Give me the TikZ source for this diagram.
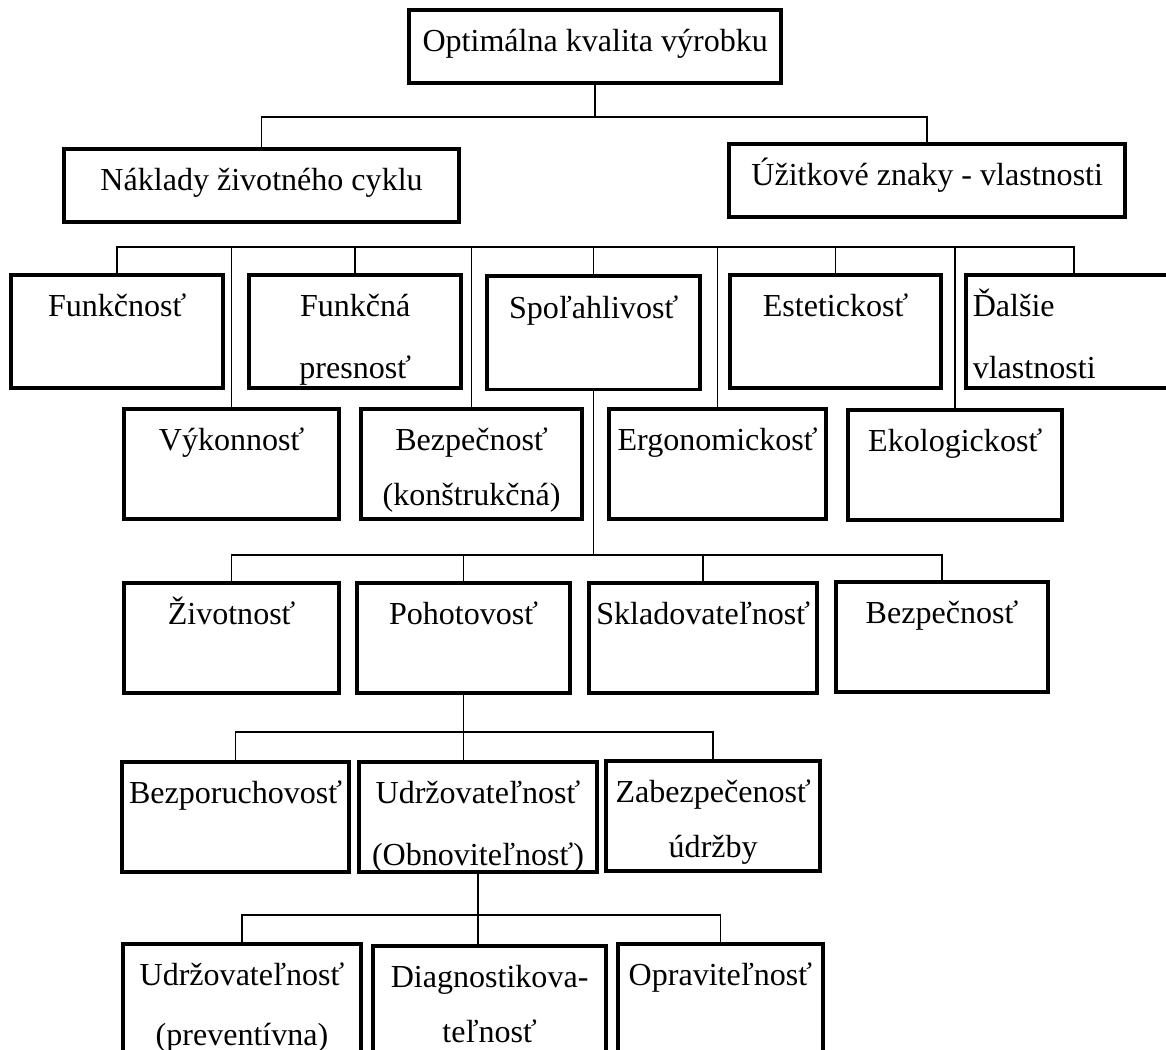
\documentclass[tikz,border=0pt]{standalone}
\usepackage{fontspec}
\setmainfont{Liberation Serif}
\hyphenpenalty=10000
\newcommand{\propbox}[4][\centering]{\parbox[c][#3][t]{#2}{#1\rule{0pt}{1.05cm}#4}}
\tikzset{
  prop/.style={draw, line width=0.09cm, inner sep=0pt},
  link/.style={line width=0.04cm}
}
\begin{document}
\begin{tikzpicture}[x=1cm,y=1cm,font=\fontsize{22.8pt}{39.1pt}\selectfont]
\useasboundingbox (0,0) rectangle (29.15,26.25);
\clip (0,0) rectangle (29.15,26.25);
% top levels
\node[prop] (top) at (14.88,25.09) {\propbox{9.3cm}{1.83cm}{Optimálna kvalita výrobku}};
\node[prop] (nakl) at (6.54,21.61) {\propbox{9.88cm}{1.83cm}{Náklady životného cyklu}};
\node[prop] (uzit) at (23.18,21.74) {\propbox{9.9cm}{1.83cm}{Úžitkové znaky - vlastnosti}};
% properties
\node[prop] (funk) at (2.93,17.96) {\propbox{5.3cm}{2.83cm}{Funkčnosť}};
\node[prop] (fpres) at (8.88,17.96) {\propbox{5.3cm}{2.83cm}{Funkčná\\[0.17cm]presnosť}};
\node[prop] (spol) at (14.84,17.93) {\propbox{5.33cm}{2.83cm}{Spoľahlivosť}};
\node[prop] (estet) at (20.89,17.96) {\propbox{5.28cm}{2.83cm}{Estetickosť}};
\node[prop] (dalsie) at (26.85,17.96) {\propbox[\raggedright]{5.4cm}{2.83cm}{\hspace*{0.17cm}Ďalšie\\[0.17cm]\hspace*{0.17cm}vlastnosti}};
\node[prop] (vykon) at (5.79,14.65) {\propbox{5.38cm}{2.75cm}{Výkonnosť}};
\node[prop] (bezk) at (11.79,14.65) {\propbox{5.53cm}{2.75cm}{Bezpečnosť\\(konštrukčná)}};
\node[prop] (ergo) at (17.94,14.65) {\propbox{5.43cm}{2.75cm}{Ergonomickosť}};
\node[prop] (ekol) at (23.88,14.63) {\propbox{5.35cm}{2.75cm}{Ekologickosť}};
% reliability
\node[prop] (zivot) at (5.79,10.3) {\propbox{5.38cm}{2.75cm}{Životnosť}};
\node[prop] (pohot) at (11.59,10.3) {\propbox{5.33cm}{2.75cm}{Pohotovosť}};
\node[prop] (sklad) at (17.58,10.3) {\propbox{5.7cm}{2.75cm}{Skladovateľnosť}};
\node[prop] (bezp) at (23.55,10.33) {\propbox{5.3cm}{2.75cm}{Bezpečnosť}};
% availability
\node[prop] (bezpor) at (5.89,5.83) {\propbox{5.68cm}{2.75cm}{Bezporuchovosť}};
\node[prop] (udrz) at (11.95,5.83) {\propbox{5.95cm}{2.75cm}{Udržovateľnosť\\[0.17cm](Obnoviteľnosť)}};
\node[prop] (zabez) at (17.83,5.85) {\propbox{5.35cm}{2.75cm}{Zabezpečenosť\\údržby}};
% maintainability
\node[prop] (udrzp) at (6.05,1.28) {\propbox{5.95cm}{2.75cm}{Udržovateľnosť\\[0.12cm](preventívna)}};
\node[prop] (diag) at (12.24,1.23) {\propbox{5.83cm}{2.75cm}{Diagnostikova-\\teľnosť}};
\node[prop] (oprav) at (18.01,1.28) {\propbox{5.13cm}{2.75cm}{Opraviteľnosť}};
% bus lines
\coordinate (b1) at (0,23.33);
\coordinate (b2) at (0,20.08);
\coordinate (b3) at (0,12.38);
\coordinate (b4) at (0,7.95);
\coordinate (b5) at (0,3.38);
\draw[link] (top.south) -- (top.south |- b1);
\draw[link] (nakl.north) |- (b1 -| uzit.north) -- (uzit.north);
\draw[link] (funk.north) |- (b2 -| dalsie.north) -- (dalsie.north);
\foreach \n in {vykon,fpres,bezk,spol,ergo,estet,ekol}
  \draw[link] (\n.north) -- (\n.north |- b2);
\draw[link] (spol.south) -- (spol.south |- b3);
\draw[link] (zivot.north) |- (b3 -| bezp.north) -- (bezp.north);
\foreach \n in {pohot,sklad}
  \draw[link] (\n.north) -- (\n.north |- b3);
\draw[link] (pohot.south) -- (pohot.south |- udrz.north);
\draw[link] (bezpor.north) |- (b4 -| zabez.north) -- (zabez.north);
\draw[link] (udrz.south) -- (udrz.south |- diag.north);
\draw[link] (udrzp.north) |- (b5 -| oprav.north) -- (oprav.north);
\end{tikzpicture}
\end{document}
